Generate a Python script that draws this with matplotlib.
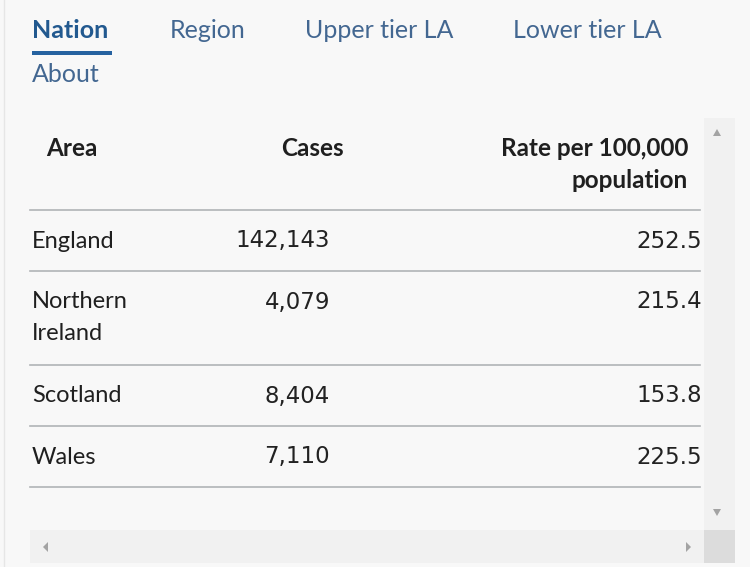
import matplotlib

matplotlib.use("Agg")
import matplotlib.pyplot as plt
from matplotlib.patches import Rectangle, Polygon

# data
tabs = ["Nation", "Region", "Upper tier LA", "Lower tier LA", "About"]
areas = ["England", "Northern\nIreland", "Scotland", "Wales"]
cases = [142143, 4079, 8404, 7110]
rates = [252.5, 215.4, 153.8, 225.5]
headers = ["Area", "Cases", "Rate per 100,000\npopulation"]

BLUE = "#436791"
DARK_BLUE = "#22598f"
TEXT = "#1f1f1f"
LINE = "#b1b4b6"
FONT = ["Lato", "DejaVu Sans"]
NUM = ["DejaVu Sans"]

W, H = 750, 567
fig = plt.figure(figsize=(W / 100, H / 100), dpi=100)
fig.patch.set_facecolor("#f8f8f8")
ax = fig.add_axes([0, 0, 1, 1])
ax.set_xlim(0, W)
ax.set_ylim(H, 0)
ax.axis("off")

# faint left border
ax.plot([4, 4], [0, H], color="#e6e6e6", lw=1)

# tabs
tab_pos = [(32, 31), (170, 31), (305, 31), (513, 31), (32, 75)]
for i, (name, (x, y)) in enumerate(zip(tabs, tab_pos)):
    bold = i == 0
    ax.text(x, y, name, ha="left", va="center", fontsize=18,
            family=FONT, color=DARK_BLUE if bold else BLUE,
            fontweight="bold" if bold else "normal")
ax.add_patch(Rectangle((32, 51), 80, 4, color="#2662a0", lw=0))

# scrollbars
ax.add_patch(Rectangle((704, 118), 31, 412, color="#f1f1f1", lw=0))
ax.add_patch(Rectangle((30, 530), 674, 33, color="#f1f1f1", lw=0))
ax.add_patch(Rectangle((704, 530), 31, 33, color="#dcdcdc", lw=0))
arrow = "#a3a3a3"
ax.add_patch(Polygon([(713, 136), (721, 136), (717, 129)], color=arrow, lw=0))
ax.add_patch(Polygon([(713, 509), (721, 509), (717, 516)], color=arrow, lw=0))
ax.add_patch(Polygon([(48, 542), (48, 552), (43, 547)], color=arrow, lw=0))
ax.add_patch(Polygon([(686, 542), (686, 552), (691, 547)], color=arrow, lw=0))

# header
hdr = dict(va="center", fontsize=17.5, family=FONT, fontweight="bold", color=TEXT)
ax.text(46, 148, headers[0], ha="left", **hdr)
ax.text(344, 148, headers[1], ha="right", **hdr)
for k, line in enumerate(headers[2].split("\n")):
    ax.text(688, 148 + 33 * k, line, ha="right", **hdr)
ax.plot([30, 700], [210, 210], color=LINE, lw=1.2)

# rows
row_top = [210, 271, 365, 426]
row_bot = [271, 365, 426, 487]
for area, c, r, top, bot in zip(areas, cases, rates, row_top, row_bot):
    y = top + 31
    for k, line in enumerate(area.split("\n")):
        ax.text(32, y + 32 * k, line, ha="left", va="center",
                fontsize=17, family=FONT, color=TEXT)
    ax.text(330, y, f"{c:,}", ha="right", va="center", fontsize=16.5,
            family=NUM, color="#222222")
    ax.text(702, y, f"{r:.1f}", ha="right", va="center", fontsize=16.5,
            family=NUM, color="#222222")
    ax.plot([30, 700], [bot, bot], color=LINE, lw=1.2)

fig.savefig("out.png", dpi=100, facecolor=fig.get_facecolor())
